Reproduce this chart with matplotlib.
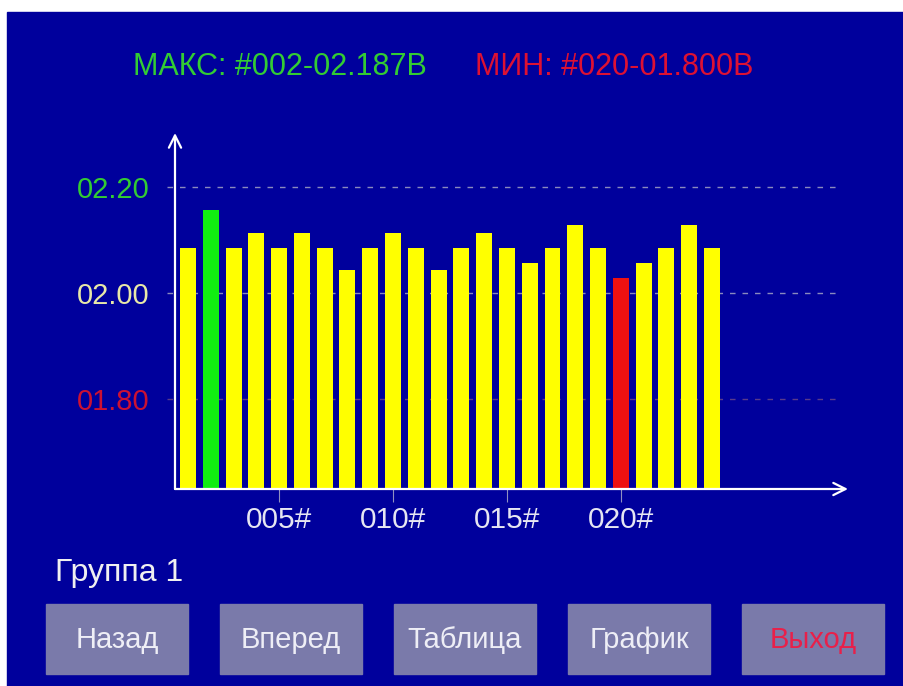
import matplotlib.pyplot as plt
from matplotlib.patches import Rectangle

plt.rcParams["font.family"] = ["Liberation Sans", "DejaVu Sans"]

# measured voltages per channel, #001..#024
channels = list(range(1, 25))
voltages = [2.085, 2.157, 2.085, 2.114, 2.085, 2.114, 2.085, 2.043,
            2.085, 2.114, 2.085, 2.043, 2.085, 2.114, 2.085, 2.056,
            2.085, 2.128, 2.085, 2.029, 2.056, 2.085, 2.128, 2.085]
y_levels = [1.80, 2.00, 2.20]
y_labels = ["01.80", "02.00", "02.20"]
x_ticks = [5, 10, 15, 20]
x_labels = ["005#", "010#", "015#", "020#"]
max_text = "МАКС: #002-02.187В"
min_text = "МИН: #020-01.800В"
group_text = "Группа 1"
buttons = ["Назад", "Вперед", "Таблица", "График", "Выход"]

BLUE = "#00009c"
YELLOW = "#ffff00"
RED = "#ee1111"
BTN = "#7a7aaa"
W, H = 904, 686

fig = plt.figure(figsize=(W / 100, H / 100), dpi=100, facecolor="white")

# pixel-coordinate background layer
bg = fig.add_axes([0, 0, 1, 1], zorder=0)
bg.set_xlim(0, W)
bg.set_ylim(H, 0)
bg.axis("off")
bg.add_patch(Rectangle((7, 12), W - 7, H - 12, color=BLUE))

bg.text(133, 75, max_text, color="#33cc33", fontsize=22, va="baseline")
bg.text(475, 75, min_text, color="#dd1133", fontsize=22, va="baseline")
bg.text(55, 581, group_text, color="#f0f0f0", fontsize=23, va="baseline")

btn_left, btn_step, btn_w = 46, 174, 142
for i, label in enumerate(buttons):
    x0 = btn_left + i * btn_step
    bg.add_patch(Rectangle((x0, 604), btn_w, 70, color=BTN))
    color = "#e8204a" if label == "Выход" else "#eeeef6"
    bg.text(x0 + btn_w / 2, 640, label, color=color, fontsize=21,
            ha="center", va="center")

# chart
ax = fig.add_axes([175 / W, (H - 489) / H, (848 - 175) / W, (489 - 133) / H], zorder=1)
ax.patch.set_alpha(0)
imax = voltages.index(max(voltages))
imin = voltages.index(min(voltages))
colors = [YELLOW] * len(voltages)
colors[imax] = "#11ee11"
colors[imin] = RED
ax.bar(channels, voltages, width=0.7, color=colors, zorder=3)

ax.set_xlim(0.43, 29.97)
ax.set_ylim(1.63, 2.302)

grid_colors = ["#5a3a8a", "#8a8abe", "#8a8abe"]
for lvl, gc in zip(y_levels, grid_colors):
    ax.hlines(lvl, 0.08, 29.6, colors=gc, linestyles=(0, (4, 5)),
              linewidth=1, clip_on=False, zorder=1)

ax.set_yticks(y_levels)
ax.set_yticklabels(y_labels, fontsize=21)
ax.tick_params(axis="y", length=0, pad=18)
for lab, c in zip(ax.get_yticklabels(), ["#cc1133", "#e8e8a8", "#33cc33"]):
    lab.set_color(c)

ax.set_xticks(x_ticks)
ax.set_xticklabels(x_labels, fontsize=21.5, color="#e6e6f2")
ax.tick_params(axis="x", length=9, width=0.8, color="#9090c0", pad=3)

for s in ax.spines.values():
    s.set_visible(False)

arrow = dict(arrowstyle="->", color="white", lw=1.6, mutation_scale=22,
             shrinkA=0, shrinkB=0)
ax.annotate("", xy=(0, 1), xytext=(0, 0), xycoords="axes fraction", arrowprops=arrow)
ax.annotate("", xy=(1, 0), xytext=(0, 0), xycoords="axes fraction", arrowprops=arrow)

fig.savefig("out.png", dpi=100, facecolor="white")
